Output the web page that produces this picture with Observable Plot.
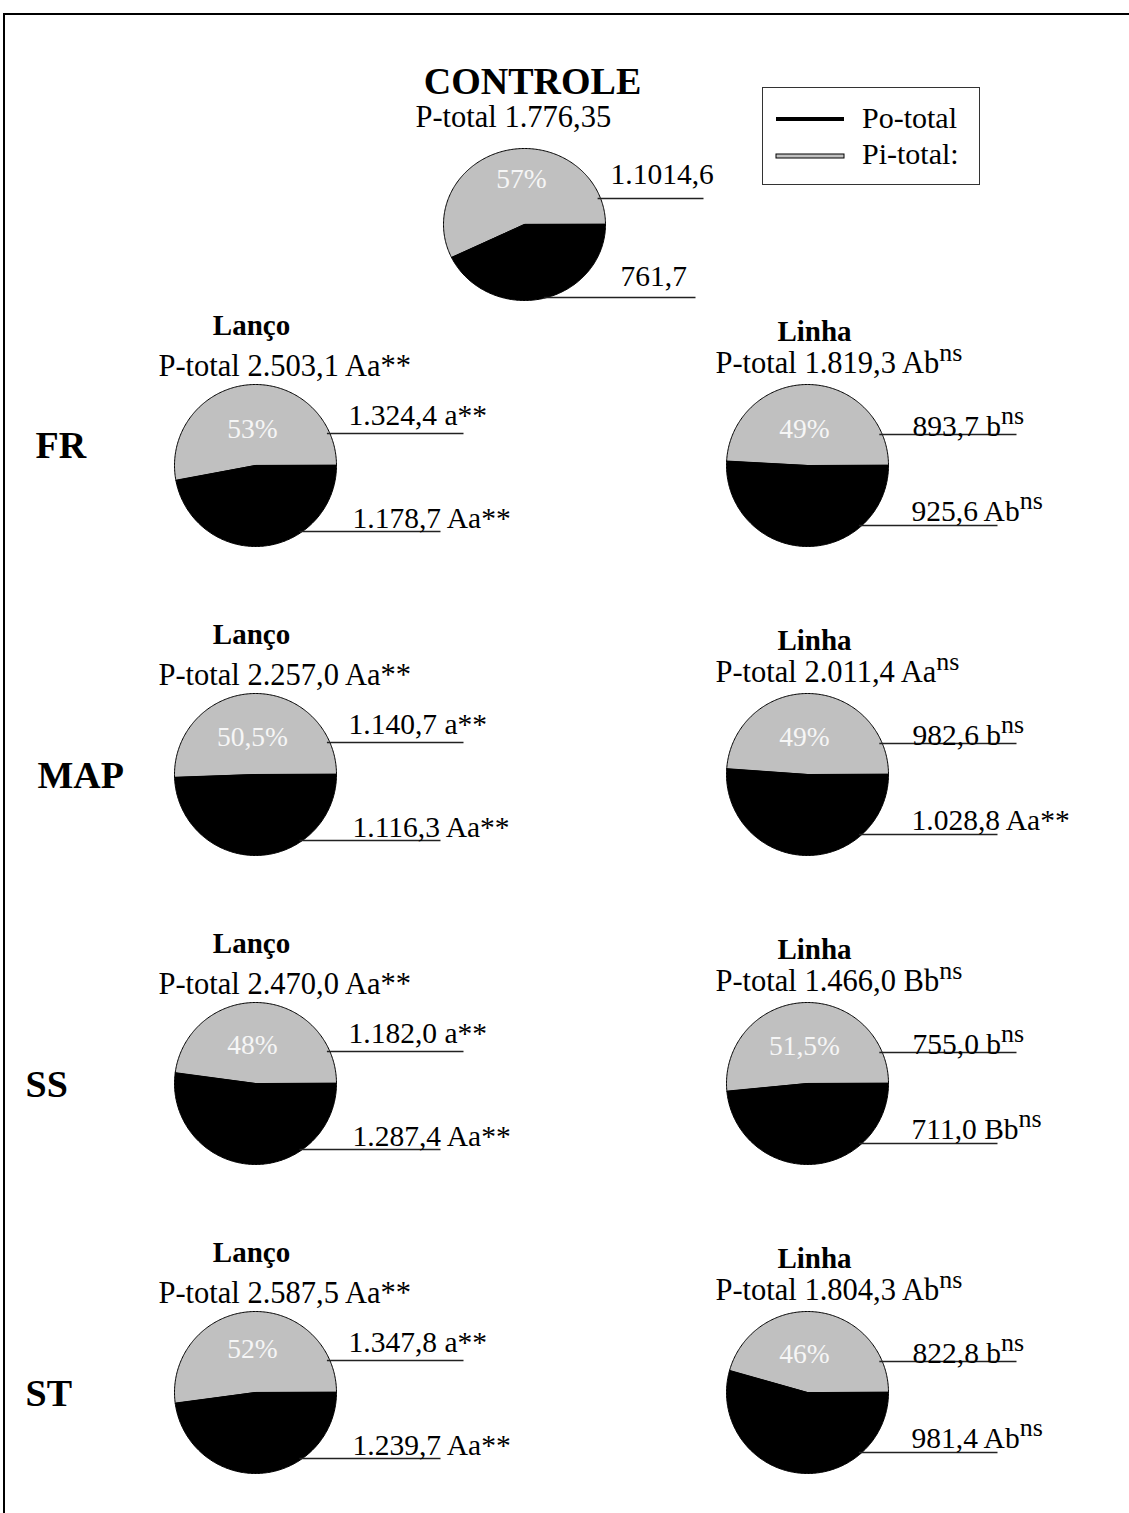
<!DOCTYPE html>
<html>
<head>
<meta charset="utf-8">
<script src="https://cdn.jsdelivr.net/npm/d3@7"></script>
<script src="https://cdn.jsdelivr.net/npm/@observablehq/plot@0.6"></script>
<style>
  html, body { margin: 0; padding: 0; background: #fff; }
  #wrap { position: relative; width: 1129px; height: 1513px; overflow: hidden; font-family: "Liberation Serif", "Times New Roman", serif; }
  #frame { position: absolute; left: 3px; top: 13px; right: -10px; bottom: -10px; border-top: 2.5px solid #000; border-left: 2.5px solid #000; }
  #chart { position: absolute; left: 0; top: 0; }
  #legend { position: absolute; left: 762px; top: 87px; width: 216px; height: 96px; border: 1.2px solid #333; background: #fff; }
</style>
</head>
<body>
<div id="wrap">
  <div id="frame"></div>
  <div id="chart"></div>
  <div id="legend">
    <svg width="216" height="96" style="position:absolute;left:0;top:0">
      <line x1="13" x2="81" y1="31" y2="31" stroke="#000" stroke-width="4"></line>
      <rect x="13" y="66" width="68" height="4" fill="#c0c0c0" stroke="#000" stroke-width="1"></rect>
      <text x="99" y="40" font-family="Liberation Serif" font-size="30">Po-total</text>
      <text x="99" y="76" font-family="Liberation Serif" font-size="30">Pi-total:</text>
    </svg>
  </div>
</div>
<script>
// ---------------- DATA ----------------
const pieNames = ["CONTROLE", "FR Lanço", "FR Linha", "MAP Lanço", "MAP Linha", "SS Lanço", "SS Linha", "ST Lanço", "ST Linha"];
const sources  = ["FR", "MAP", "SS", "ST"];
const methods  = ["Lanço", "Linha"];
const piTotal  = [1014.6, 1324.4, 893.7, 1140.7, 982.6, 1182.0, 755.0, 1347.8, 822.8];   // grey slice
const poTotal  = [761.7, 1178.7, 925.6, 1116.3, 1028.8, 1287.4, 711.0, 1239.7, 981.4];   // black slice
const pctLabels = ["57%", "53%", "49%", "50,5%", "49%", "48%", "51,5%", "52%", "46%"];
const totalLabels = ["P-total 1.776,35", "P-total 2.503,1 Aa**", "P-total 1.819,3 Ab^ns",
  "P-total 2.257,0 Aa**", "P-total 2.011,4 Aa^ns", "P-total 2.470,0 Aa**", "P-total 1.466,0 Bb^ns",
  "P-total 2.587,5 Aa**", "P-total 1.804,3 Ab^ns"];
const piLabels = ["1.1014,6", "1.324,4 a**", "893,7 b^ns", "1.140,7 a**", "982,6 b^ns",
  "1.182,0 a**", "755,0 b^ns", "1.347,8 a**", "822,8 b^ns"];
const poLabels = ["761,7", "1.178,7 Aa**", "925,6 Ab^ns", "1.116,3 Aa**", "1.028,8 Aa**",
  "1.287,4 Aa**", "711,0 Bb^ns", "1.239,7 Aa**", "981,4 Ab^ns"];
const mainTitle = "CONTROLE";

// ---------------- LAYOUT ----------------
const W = 1129, H = 1513;
const layout = [{cx: 524, cy: 224, rx: 81, ry: 76, kind: "ctrl"}];
sources.forEach((s, r) => methods.forEach((m, k) => {
  layout.push({cx: k ? 807 : 255, cy: 465 + 309 * r, rx: 81, ry: 81, kind: k ? "lin" : "lan", row: r});
}));
const pctDy = [-37, -28, -28, -29, -29, -30, -29, -35, -30];
const style = {
  ctrl: {upDy: -26, upEnd: 179, upLx: 86, upLdy: -41, loDy: 73, loEnd: 171, loLx: 96, loLdy: 61},
  lan:  {upDy: -32, upEnd: 208, upLx: 93, upLdy: -41, loDy: 66, loEnd: 185, loLx: 97, loLdy: 62,
         tX: -4, tDy: -131, pX: -97, pDy: -90},
  lin:  {upDy: -31, upEnd: 209, upLx: 105, upLdy: -30, loDy: 60, loEnd: 190, loLx: 104, loLdy: 55,
         tX: 7, tDy: -125, pX: -92, pDy: -93}
};
const rowLabelPos = [[35, 457], [37, 787], [25, 1096], [25, 1405]];

// ---------------- DERIVED GEOMETRY ----------------
const greyPts = [], blackPts = [];
const links = [];
const labels = [], totals = [], titles = [], pcts = [], bigTitles = [], rowLabels = [];
layout.forEach((L, i) => {
  const frac = piTotal[i] / (piTotal[i] + poTotal[i]);
  const a1 = frac * 2 * Math.PI;
  const pt = a => ({x: L.cx + L.rx * Math.cos(a), y: L.cy - L.ry * Math.sin(a)});
  const step = Math.PI / 180;
  greyPts.push({x: L.cx, y: L.cy, s: i});
  for (let a = 0; a < a1; a += step) greyPts.push({...pt(a), s: i});
  greyPts.push({...pt(a1), s: i});
  blackPts.push({x: L.cx, y: L.cy, s: i});
  for (let a = a1; a < 2 * Math.PI; a += step) blackPts.push({...pt(a), s: i});
  blackPts.push({...pt(2 * Math.PI), s: i});

  const S = style[L.kind];
  const edgeX = dy => L.cx + L.rx * Math.sqrt(Math.max(0, 1 - (dy / L.ry) ** 2)) - 3;
  links.push({x1: edgeX(S.upDy), x2: L.cx + S.upEnd, y: L.cy + S.upDy});
  links.push({x1: edgeX(S.loDy), x2: L.cx + S.loEnd, y: L.cy + S.loDy});
  labels.push({x: L.cx + S.upLx, y: L.cy + S.upLdy, text: piLabels[i]});
  labels.push({x: L.cx + S.loLx, y: L.cy + S.loLdy, text: poLabels[i]});
  pcts.push({x: L.cx - 3, y: L.cy + pctDy[i], text: pctLabels[i]});
  if (L.kind === "ctrl") {
    bigTitles.push({x: 532, y: 93, text: mainTitle});
    totals.push({x: 415, y: 126, text: totalLabels[i]});
  } else {
    titles.push({x: L.cx + S.tX, y: L.cy + S.tDy, text: methods[L.kind === "lin" ? 1 : 0]});
    totals.push({x: L.cx + S.pX, y: L.cy + S.pDy, text: totalLabels[i]});
  }
});
sources.forEach((s, r) => rowLabels.push({x: rowLabelPos[r][0], y: rowLabelPos[r][1], text: s}));

const FONT = "Liberation Serif";
const chart = Plot.plot({
  width: W, height: H, margin: 0,
  x: {domain: [0, W], range: [0, W], axis: null},
  y: {domain: [0, H], range: [0, H], axis: null},
  style: {background: "transparent", fontFamily: FONT},
  marks: [
    Plot.line(greyPts, {x: "x", y: "y", z: "s", fill: "#c0c0c0", stroke: "#000", strokeWidth: 1, curve: "linear-closed"}),
    Plot.line(blackPts, {x: "x", y: "y", z: "s", fill: "#000", stroke: "#000", strokeWidth: 1, curve: "linear-closed"}),
    Plot.link(links, {x1: "x1", x2: "x2", y1: "y", y2: "y", stroke: "#222", strokeWidth: 1.3}),
    Plot.text(labels, {x: "x", y: "y", text: "text", textAnchor: "start", lineAnchor: "bottom", fontSize: 29.5, fontFamily: FONT, fill: "#000"}),
    Plot.text(totals, {x: "x", y: "y", text: "text", textAnchor: "start", lineAnchor: "bottom", fontSize: 30.5, fontFamily: FONT, fill: "#000"}),
    Plot.text(pcts, {x: "x", y: "y", text: "text", textAnchor: "middle", lineAnchor: "bottom", fontSize: 27.5, fontFamily: FONT, fill: "#f6f6f6"}),
    Plot.text(titles, {x: "x", y: "y", text: "text", textAnchor: "middle", lineAnchor: "bottom", fontSize: 29, fontWeight: "bold", fontFamily: FONT, fill: "#000"}),
    Plot.text(bigTitles, {x: "x", y: "y", text: "text", textAnchor: "middle", lineAnchor: "bottom", fontSize: 38, fontWeight: "bold", fontFamily: FONT, fill: "#000"}),
    Plot.text(rowLabels, {x: "x", y: "y", text: "text", textAnchor: "start", lineAnchor: "bottom", fontSize: 38, fontWeight: "bold", fontFamily: FONT, fill: "#000"})
  ]
});
document.getElementById("chart").appendChild(chart);

// superscripts ("^ns")
chart.querySelectorAll("text").forEach(t => {
  const s = t.textContent;
  if (!s.includes("^")) return;
  const [a, b] = s.split("^");
  t.textContent = a;
  const ts = document.createElementNS("http://www.w3.org/2000/svg", "tspan");
  ts.setAttribute("dy", "-12");
  ts.setAttribute("font-size", "26");
  ts.textContent = b;
  t.appendChild(ts);
});
</script>
</body>
</html>
